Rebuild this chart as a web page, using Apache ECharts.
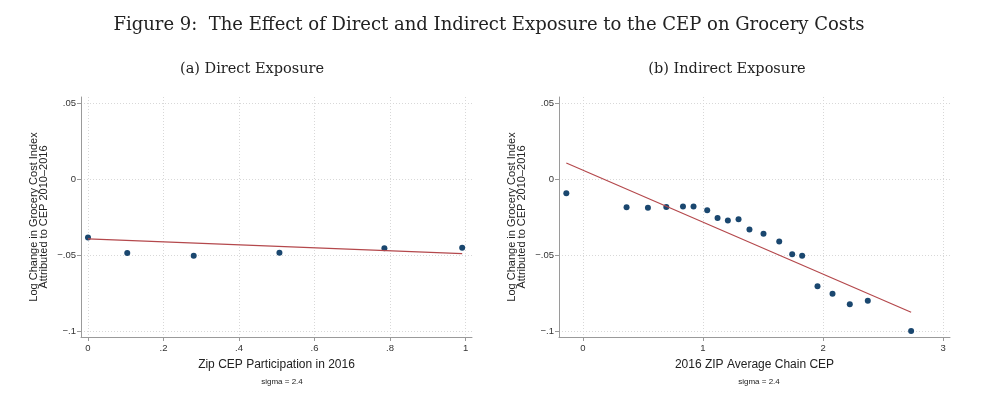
<!DOCTYPE html>
<html lang="en">
<head>
    <meta charset="UTF-8">
    <title>Figure 9</title>
    <script type="text/javascript" src="https://cdn.jsdelivr.net/npm/echarts@6/dist/echarts.min.js"></script>
</head>
<body style="margin:0;background:#fff">
<div id="chartmain" style="width:987px;height:398px"></div>
<script>
    // (a) direct exposure: binned scatter + fitted line
    var directX = [0, 0.104, 0.280, 0.507, 0.785, 0.991];
    var directY = [-0.0384, -0.0485, -0.0503, -0.0483, -0.0454, -0.0450];
    var directFitX = [0, 0.991];
    var directFitY = [-0.0393, -0.0489];

    // (b) indirect exposure
    var indirectX = [-0.139, 0.363, 0.541, 0.694, 0.833, 0.921, 1.035, 1.121, 1.207, 1.296,
                     1.387, 1.504, 1.635, 1.743, 1.826, 1.954, 2.079, 2.223, 2.373, 2.734];
    var indirectY = [-0.0092, -0.0184, -0.0187, -0.0182, -0.0180, -0.0180, -0.0204, -0.0255, -0.0272, -0.0263,
                     -0.0331, -0.0358, -0.0410, -0.0494, -0.0503, -0.0704, -0.0753, -0.0823, -0.0799, -0.0998];
    var indirectFitX = [-0.139, 2.734];
    var indirectFitY = [0.0107, -0.0875];

    var yTicks = [-0.1, -0.05, 0, 0.05];
    var directTicks = [0, 0.2, 0.4, 0.6, 0.8, 1];
    var indirectTicks = [0, 1, 2, 3];

    function zip(a, b) {
        var out = [];
        for (var i = 0; i < a.length; i++) out.push([a[i], b[i]]);
        return out;
    }
    function stataNum(v) {
        if (v === 0) return '0';
        var s = String(Math.abs(v)).replace(/^0\./, '.');
        return (v < 0 ? '\u2212' : '') + s;
    }

    var navy = '#1a476f';
    var maroon = '#b4484c';
    var axisCol = '#9a9a9a';
    var labelFont = 'Liberation Sans';
    var serif = 'DejaVu Serif';

    function xAxisCfg(idx, name, min, max, ticks) {
        return {
            type: 'value', gridIndex: idx, min: min, max: max,
            name: name, nameLocation: 'middle', nameGap: 22,
            nameTextStyle: { fontFamily: labelFont, fontSize: 12, color: '#222' },
            axisLine: { show: true, onZero: false, lineStyle: { color: axisCol, width: 1 } },
            axisTick: { show: true, length: 4, customValues: ticks, lineStyle: { color: axisCol } },
            axisLabel: { customValues: ticks, formatter: stataNum, fontFamily: labelFont, fontSize: 9.5, color: '#333', margin: 6 },
            splitLine: { show: true, lineStyle: { color: '#d8d8d8', type: [1, 2] } }
        };
    }
    function yAxisCfg(idx) {
        return {
            type: 'value', gridIndex: idx, min: -0.1038, max: 0.0541,
            name: 'Log Change in Grocery Cost Index\nAttributed to CEP 2010\u20132016',
            nameLocation: 'middle', nameRotate: 90, nameGap: 32,
            nameTextStyle: { fontFamily: labelFont, fontSize: 11, color: '#222', lineHeight: 10 },
            axisLine: { show: true, onZero: false, lineStyle: { color: axisCol, width: 1 } },
            axisTick: { show: true, length: 4, customValues: yTicks, lineStyle: { color: axisCol } },
            axisLabel: { customValues: yTicks, formatter: stataNum, fontFamily: labelFont, fontSize: 9.5, color: '#333', margin: 5 },
            splitLine: { show: true, lineStyle: { color: '#d8d8d8', type: [1, 2] } }
        };
    }

    var option = {
        animation: false,
        backgroundColor: '#fff',
        title: [
            { text: 'Figure 9:  The Effect of Direct and Indirect Exposure to the CEP on Grocery Costs',
              left: 484, top: 11, textAlign: 'center',
              textStyle: { fontFamily: serif, fontSize: 18, fontWeight: 'normal', color: '#222' } },
            { text: '(a) Direct Exposure', left: 247, top: 57, textAlign: 'center',
              textStyle: { fontFamily: serif, fontSize: 14.5, fontWeight: 'normal', color: '#222' } },
            { text: '(b) Indirect Exposure', left: 722, top: 57, textAlign: 'center',
              textStyle: { fontFamily: serif, fontSize: 14.5, fontWeight: 'normal', color: '#222' } },
            { text: 'sigma = 2.4', left: 277, top: 373, textAlign: 'center',
              textStyle: { fontFamily: labelFont, fontSize: 8, fontWeight: 'normal', color: '#222' } },
            { text: 'sigma = 2.4', left: 754, top: 373, textAlign: 'center',
              textStyle: { fontFamily: labelFont, fontSize: 8, fontWeight: 'normal', color: '#222' } }
        ],
        grid: [
            { left: 81, right: 515, top: 97, bottom: 61 },
            { left: 559, right: 37, top: 97, bottom: 61 }
        ],
        xAxis: [
            xAxisCfg(0, 'Zip CEP Participation in 2016', -0.0185, 1.017, directTicks),
            xAxisCfg(1, '2016 ZIP Average Chain CEP', -0.2, 3.058, indirectTicks)
        ],
        yAxis: [yAxisCfg(0), yAxisCfg(1)],
        series: [
            { type: 'line', xAxisIndex: 0, yAxisIndex: 0, data: zip(directFitX, directFitY),
              symbol: 'none', lineStyle: { color: maroon, width: 1.2 } },
            { type: 'scatter', xAxisIndex: 0, yAxisIndex: 0, data: zip(directX, directY),
              symbolSize: 6, itemStyle: { color: navy, opacity: 1 } },
            { type: 'line', xAxisIndex: 1, yAxisIndex: 1, data: zip(indirectFitX, indirectFitY),
              symbol: 'none', lineStyle: { color: maroon, width: 1.2 } },
            { type: 'scatter', xAxisIndex: 1, yAxisIndex: 1, data: zip(indirectX, indirectY),
              symbolSize: 6, itemStyle: { color: navy, opacity: 1 } }
        ]
    };

    var myChart = echarts.init(document.getElementById('chartmain'));
    myChart.setOption(option);
</script>
</body>
</html>
